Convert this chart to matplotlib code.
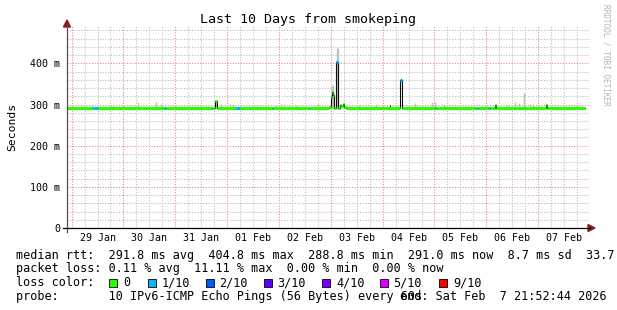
import matplotlib
matplotlib.use("Agg")
import matplotlib.pyplot as plt
from matplotlib.patches import Rectangle, Polygon
from matplotlib.lines import Line2D
import matplotlib.transforms as mtrans
import numpy as np

MONO = "DejaVu Sans Mono"
plt.rcParams["font.family"] = [MONO]

# ---------------- data ----------------
# time axis: days since 29 Jan 00:00
t_start = -0.0885      # Wed Jan 28 21:52:44
t_end = 9.9115         # Sat Feb  7 21:52:44

day_labels = ["29 Jan", "30 Jan", "31 Jan", "01 Feb", "02 Feb",
              "03 Feb", "04 Feb", "05 Feb", "06 Feb", "07 Feb"]

# median rtt (ms), step samples: value holds until next sample
med_t = [-0.0885, 0.41, 0.51, 1.12, 1.50, 1.78, 1.82, 2.70, 2.72, 2.76, 2.81,
         3.17, 3.24, 3.87, 3.89, 4.58, 4.60, 4.97, 5.00, 5.03, 5.05, 5.07,
         5.11, 5.14, 5.17, 5.20, 5.23, 5.26, 5.30, 6.33, 6.37, 6.40, 7.01,
         7.03, 7.32, 7.78, 7.80, 7.84, 7.86, 8.03, 8.07, 8.16, 8.18, 8.66,
         9.16, 9.18]
med_v = [290.5, 290.5, 290.5, 291.0, 292.0, 292.0, 292.0, 292.0, 292.0, 308.0, 292.0,
         292.5, 292.0, 292.0, 292.0, 292.0, 292.0, 293.0, 318.0, 331.0, 322.0, 291.0,
         404.0, 292.0, 299.0, 297.0, 301.0, 295.0, 291.0, 359.0, 291.0, 291.0, 291.0,
         291.5, 292.0, 291.0, 291.5, 291.0, 291.5, 291.5, 292.0, 300.0, 292.0, 291.0,
         300.0, 291.5]
med_loss = [0, 1, 0, 0, 0, 1, 0, 1, 0, 0, 0,
            1, 0, 1, 0, 1, 0, 0, 0, 0, 0, 0,
            1, 0, 0, 0, 0, 0, 0, 1, 1, 0, 1,
            0, 0, 1, 0, 1, 0, 1, 0, 0, 0, 0,
            0, 0]

# smoke (min..max of the pings), light grey
smoke_t = [0.18, 0.39, 0.77, 0.85, 1.29, 1.62, 1.72, 2.79, 2.89, 3.06, 3.12,
           3.94, 4.03, 4.10, 4.20, 4.32, 4.76, 5.02, 5.04, 5.12, 5.13, 5.55,
           5.87, 6.63, 6.95, 7.01, 8.40, 8.56, 8.64, 8.72, 8.85, 8.90, 9.74]
smoke_lo = [288] * 33
smoke_hi = [295, 300, 296, 295, 305, 305, 302, 312, 302, 302, 299,
            300, 302, 301, 300, 299, 302, 345, 347, 437, 437, 298,
            302, 303, 305, 307, 299, 305, 303, 329, 302, 302, 300]

# dark smoke streaks
dark_t = [6.15, 7.18]
dark_lo = [289, 289]
dark_hi = [298, 296]

loss_labels = ["0", "1/10", "2/10", "3/10", "4/10", "5/10", "9/10"]
loss_colors = ["#26ff00", "#00b8ff", "#0059ff", "#5e00ff", "#7e00ff", "#dd00ff", "#ff0000"]

legend_rtt = "median rtt:  291.8 ms avg  404.8 ms max  288.8 ms min  291.0 ms now  8.7 ms sd  33.7"
legend_loss = "packet loss: 0.11 % avg  11.11 % max  0.00 % min  0.00 % now"
legend_probe = "probe:       10 IPv6-ICMP Echo Pings (56 Bytes) every 60s"
legend_end = "end: Sat Feb  7 21:52:44 2026"

# ---------------- layout ----------------
W, H = 617, 310
fig = plt.figure(figsize=(W / 100, H / 100), dpi=100)
fig.patch.set_facecolor("white")

def fx(x):
    return x / W

def fy(y):
    return 1 - y / H

ax_l, ax_r, ax_b, ax_t = 67, 590, 228, 26
px_per_day = 52.0
px_per_ms = 41.15 / 100
ax = fig.add_axes([fx(ax_l), fy(ax_b), (ax_r - ax_l) / W, (ax_b - ax_t) / H])
ax.set_xlim(t_start, t_start + (ax_r - ax_l) / px_per_day)
ax.set_ylim(0, (ax_b - ax_t) / px_per_ms)
for s in ax.spines.values():
    s.set_visible(False)
ax.set_facecolor("white")

# grid
ax.set_xticks(np.arange(0, 11, 1))
ax.set_xticks(np.arange(0, 10.01, 0.25), minor=True)
ax.set_yticks(np.arange(0, 401, 100))
ax.set_yticks(np.arange(0, 481, 20), minor=True)
ax.set_yticklabels(["0"] + ["%d m" % v for v in range(100, 401, 100)])
ax.set_xticklabels([])
ax.tick_params(axis="both", which="both", length=0)
ax.tick_params(axis="y", labelsize=7.2, pad=5, labelcolor="black")
ax.grid(which="minor", color="#b8b8b8", linestyle=(0, (1, 1.6)), linewidth=0.75)
ax.grid(which="major", color="#f08080", linestyle=(0, (1, 1.6)), linewidth=0.75)
ax.set_axisbelow(True)

# x labels at noon of each day
trans = mtrans.blended_transform_factory(ax.transData, fig.transFigure)
for i, lab in enumerate(day_labels):
    ax.text(i + 0.5, fy(238), lab, transform=trans, ha="center", va="center",
            fontsize=7.2, family=MONO)

# smoke
ax.vlines(smoke_t, smoke_lo, smoke_hi, color="#c0c0c0", linewidth=1.0, zorder=2)
ax.vlines(dark_t, dark_lo, dark_hi, color="#202020", linewidth=0.8, zorder=3)

# median: thin black step line under coloured thick segments
t_ext = med_t + [t_end]
v_ext = med_v + [med_v[-1]]
ax.step(t_ext, v_ext, where="post", color="#101010", linewidth=0.8, zorder=3)
seg_colors = [loss_colors[l] for l in med_loss]
hl = ax.hlines(med_v, t_ext[:-1], t_ext[1:], colors=seg_colors, linewidth=2.3, zorder=4)
hl.set_capstyle("butt")

# axes lines and arrows (figure pixel coords)
fig.add_artist(Line2D([fx(ax_l), fx(ax_l)], [fy(232), fy(24)], color="#505050",
                      linewidth=0.9, transform=fig.transFigure))
fig.add_artist(Line2D([fx(63), fx(590)], [fy(ax_b), fy(ax_b)], color="black",
                      linewidth=0.9, transform=fig.transFigure))
fig.add_artist(Polygon([[fx(63.5), fy(27)], [fx(70.5), fy(27)], [fx(67), fy(20)]],
                       closed=True, color="#8b1a1a", transform=fig.transFigure))
fig.add_artist(Polygon([[fx(588), fy(224.5)], [fx(588), fy(231.5)], [fx(595), fy(228)]],
                       closed=True, color="#8b1a1a", transform=fig.transFigure))

# title, y label, watermark
fig.text(fx(308), fy(20), "Last 10 Days from smokeping", ha="center", va="center",
         fontsize=9.6, family=MONO)
fig.text(fx(12), fy(127), "Seconds", rotation=90, ha="center", va="center",
         fontsize=8.2, family=MONO)
fig.text(fx(606), fy(4), "RRDTOOL / TOBI OETIKER", rotation=270, ha="center", va="top",
         fontsize=5.6, color="#b4b4b4", family=MONO)

# legend
lfs = 8.5
fig.text(fx(16), fy(255), legend_rtt, ha="left", va="center", fontsize=lfs, family=MONO)
fig.text(fx(16), fy(268.5), legend_loss, ha="left", va="center", fontsize=lfs, family=MONO)
fig.text(fx(16), fy(282.5), "loss color:", ha="left", va="center", fontsize=lfs, family=MONO)
box_x = [109, 148, 205.5, 263.5, 322, 379.5, 439]
for bx, lab, col in zip(box_x, loss_labels, loss_colors):
    fig.add_artist(Rectangle((fx(bx), fy(286.5)), 8 / W, 8 / H, facecolor=col,
                             edgecolor="black", linewidth=0.6, transform=fig.transFigure))
    fig.text(fx(bx + 14), fy(282.5), lab, ha="left", va="center", fontsize=lfs, family=MONO)
fig.text(fx(16), fy(296.5), legend_probe, ha="left", va="center", fontsize=lfs, family=MONO)
fig.text(fx(607), fy(296.5), legend_end, ha="right", va="center", fontsize=lfs, family=MONO)

fig.savefig("out.png", dpi=100, facecolor="white")
